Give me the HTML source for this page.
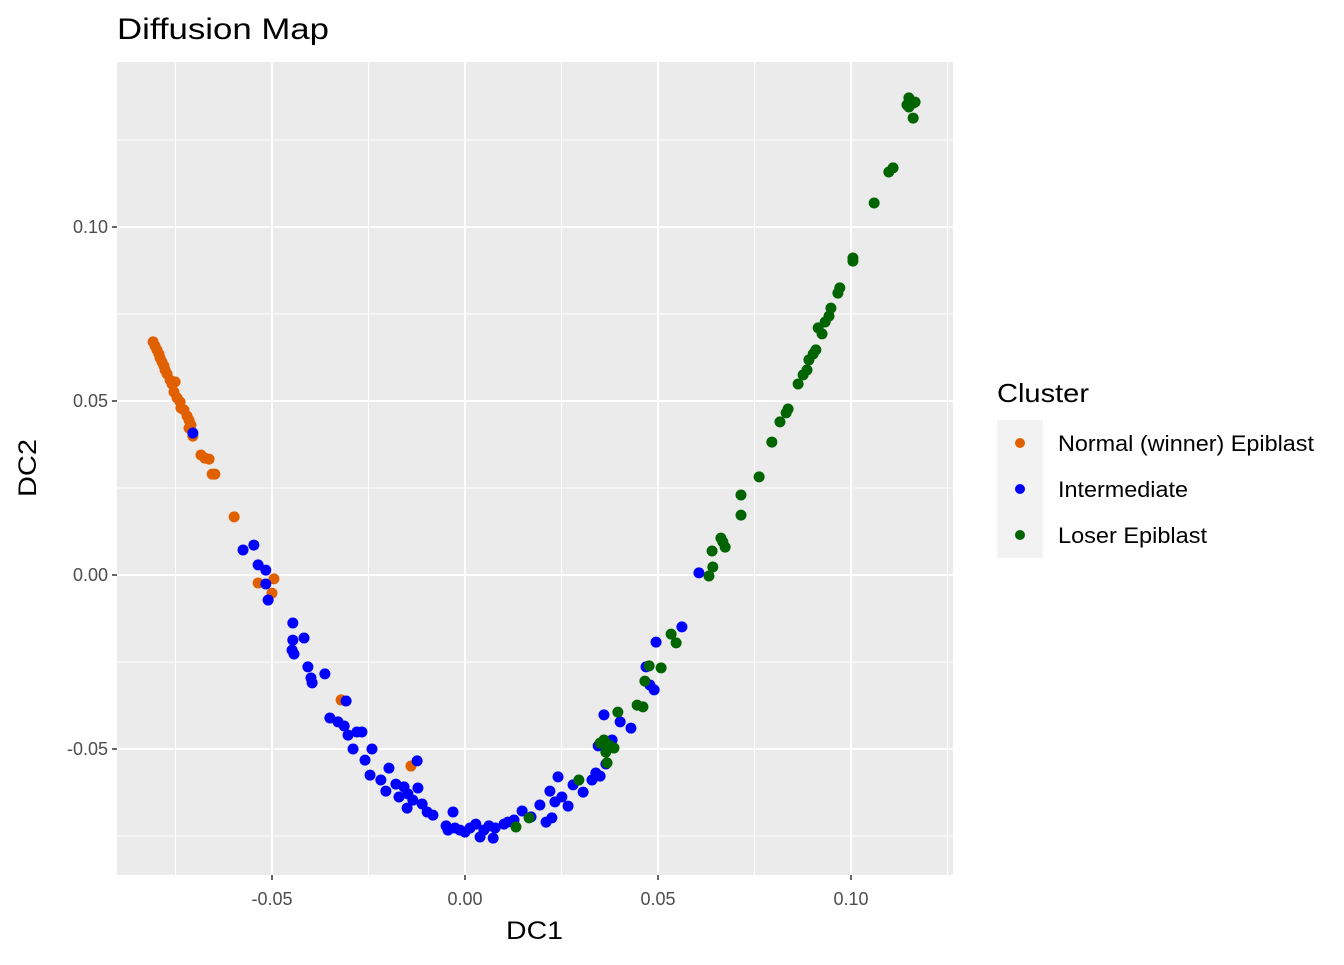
<!DOCTYPE html>
<html><head><meta charset="utf-8">
<style>
body{margin:0;background:#fff;font-family:"Liberation Sans",Arial,sans-serif;}
svg text{font-family:"Liberation Sans",Arial,sans-serif;}
</style></head>
<body>
<svg id="chart" width="1344" height="960" xmlns="http://www.w3.org/2000/svg">
<rect width="1344" height="960" fill="#fff"/>
<text x="117" y="39" font-size="30" textLength="212" lengthAdjust="spacingAndGlyphs" fill="#000">Diffusion Map</text>
<rect x="117" y="62" width="836" height="813" fill="#ebebeb"/>
<g id="grid"></g>
<g id="axes"></g>
<g id="points"></g>
<text x="506" y="939" font-size="25" textLength="57" lengthAdjust="spacingAndGlyphs">DC1</text>
<text transform="translate(36,497) rotate(-90)" font-size="25" textLength="58" lengthAdjust="spacingAndGlyphs">DC2</text>
<g>
<text x="997" y="402" font-size="26" textLength="92" lengthAdjust="spacingAndGlyphs">Cluster</text>
<rect x="997" y="420" width="46" height="138" fill="#f2f2f2"/>
<g><circle cx="1020" cy="443" r="5" fill="#e06000"/><text x="1058" y="451" font-size="22" textLength="256" lengthAdjust="spacingAndGlyphs">Normal (winner) Epiblast</text></g>
<g><circle cx="1020" cy="489" r="5" fill="#0000ff"/><text x="1058" y="497" font-size="22" textLength="130" lengthAdjust="spacingAndGlyphs">Intermediate</text></g>
<g><circle cx="1020" cy="535" r="5" fill="#006400"/><text x="1058" y="543" font-size="22" textLength="149" lengthAdjust="spacingAndGlyphs">Loser Epiblast</text></g>
</g>
</svg>
<script>
const xTicks=[-0.05,0,0.05,0.10];
const xTickLabels=["-0.05","0.00","0.05","0.10"];
const yTicks=[-0.05,0,0.05,0.10];
const yTickLabels=["-0.05","0.00","0.05","0.10"];
const normalX=[-0.0808,-0.0803,-0.0798,-0.0793,-0.0790,-0.0785,-0.0780,-0.0777,-0.0772,-0.0764,-0.0759,-0.0751,-0.0754,-0.0746,-0.0738,-0.0736,-0.0728,-0.0720,-0.0715,-0.0710,-0.0715,-0.0705,-0.0684,-0.0674,-0.0663,-0.0655,-0.0648,-0.0598,-0.0536,-0.0495,-0.0500,-0.0321,-0.0140];
const normalY=[0.0670,0.0658,0.0647,0.0635,0.0624,0.0612,0.0601,0.0589,0.0578,0.0560,0.0549,0.0555,0.0526,0.0509,0.0497,0.0480,0.0474,0.0457,0.0445,0.0431,0.0422,0.0399,0.0345,0.0336,0.0333,0.0290,0.0290,0.0167,-0.0023,-0.0011,-0.0052,-0.0359,-0.0549];
const interX=[-0.0705,-0.0575,-0.0547,-0.0536,-0.0516,-0.0516,-0.0510,-0.0446,-0.0446,-0.0417,-0.0448,-0.0443,-0.0407,-0.0399,-0.0396,-0.0363,-0.0308,-0.0350,-0.0329,-0.0313,-0.0303,-0.0280,-0.0267,-0.0290,-0.0241,-0.0259,-0.0246,-0.0218,-0.0205,-0.0197,-0.0179,-0.0171,-0.0158,-0.0148,-0.0150,-0.0135,-0.0124,-0.0122,-0.0111,-0.0098,-0.0083,-0.0049,-0.0044,-0.0031,-0.0026,-0.0013,0.0000,0.0013,0.0028,0.0039,0.0049,0.0062,0.0073,0.0078,0.0101,0.0111,0.0127,0.0148,0.0171,0.0194,0.0210,0.0220,0.0225,0.0233,0.0241,0.0251,0.0267,0.0280,0.0306,0.0329,0.0339,0.0350,0.0360,0.0381,0.0402,0.0430,0.0469,0.0479,0.0490,0.0495,0.0562,0.0606,0.0365,0.0345];
const interY=[0.0408,0.0072,0.0086,0.0029,0.0014,-0.0026,-0.0072,-0.0138,-0.0187,-0.0181,-0.0216,-0.0227,-0.0264,-0.0296,-0.0310,-0.0284,-0.0362,-0.0411,-0.0422,-0.0434,-0.0460,-0.0451,-0.0451,-0.0500,-0.0500,-0.0532,-0.0575,-0.0589,-0.0621,-0.0555,-0.0601,-0.0638,-0.0609,-0.0629,-0.0670,-0.0647,-0.0534,-0.0612,-0.0658,-0.0681,-0.0690,-0.0721,-0.0733,-0.0681,-0.0727,-0.0733,-0.0739,-0.0727,-0.0716,-0.0753,-0.0733,-0.0721,-0.0756,-0.0727,-0.0716,-0.0710,-0.0704,-0.0678,-0.0695,-0.0661,-0.0710,-0.0621,-0.0698,-0.0652,-0.0580,-0.0638,-0.0664,-0.0603,-0.0624,-0.0589,-0.0569,-0.0578,-0.0402,-0.0474,-0.0422,-0.0440,-0.0264,-0.0316,-0.0330,-0.0193,-0.0149,0.0006,-0.0543,-0.0491];
const loserX=[0.0132,0.0166,0.0295,0.0350,0.0360,0.0365,0.0368,0.0373,0.0386,0.0396,0.0446,0.0461,0.0466,0.0477,0.0508,0.0534,0.0547,0.0632,0.0642,0.0640,0.0663,0.0668,0.0674,0.0715,0.0715,0.0762,0.0795,0.0816,0.0832,0.0837,0.0863,0.0876,0.0886,0.0891,0.0902,0.0909,0.0915,0.0925,0.0933,0.0943,0.0948,0.0966,0.0971,0.1005,0.1005,0.1060,0.1098,0.1109,0.1150,0.1161,0.1166,0.1150,0.1161,0.1145];
const loserY=[-0.0724,-0.0698,-0.0589,-0.0483,-0.0474,-0.0509,-0.0540,-0.0489,-0.0497,-0.0394,-0.0374,-0.0379,-0.0305,-0.0261,-0.0267,-0.0170,-0.0195,-0.0003,0.0023,0.0069,0.0106,0.0095,0.0080,0.0172,0.0230,0.0282,0.0382,0.0440,0.0466,0.0477,0.0549,0.0575,0.0589,0.0618,0.0635,0.0647,0.0710,0.0693,0.0727,0.0744,0.0767,0.0810,0.0825,0.0911,0.0902,0.1069,0.1158,0.1170,0.1371,0.1356,0.1359,0.1345,0.1313,0.1351];

const NS="http://www.w3.org/2000/svg";
const PL=117,PR=953,PT=62,PB=875;
function sx(v){return 465+v*3860;}
function sy(v){return 575-v*3480;}
function mk(tag,attrs,parent){const e=document.createElementNS(NS,tag);for(const k in attrs)e.setAttribute(k,attrs[k]);parent.appendChild(e);return e;}
const grid=document.getElementById('grid'),axes=document.getElementById('axes'),pts=document.getElementById('points');
for(let i=0;i<xTicks.length+1;i++){
  const v=(i===0?xTicks[0]-0.025:xTicks[i-1]+0.025);
  const l=mk('line',{x1:sx(v),x2:sx(v),y1:PT,y2:PB,stroke:'#fff','stroke-width':1},grid);
  
  
}
for(let i=0;i<yTicks.length+1;i++){
  const v=(i===0?yTicks[0]-0.025:yTicks[i-1]+0.025);
  const l=mk('line',{x1:PL,x2:PR,y1:sy(v),y2:sy(v),stroke:'#fff','stroke-width':1},grid);
  
  
}
xTicks.forEach((v,i)=>{
  const l=mk('line',{x1:sx(v),x2:sx(v),y1:PT,y2:PB,stroke:'#fff','stroke-width':2},grid);
  
  
  const t=mk('line',{x1:sx(v),x2:sx(v),y1:PB,y2:PB+5,stroke:'#333','stroke-width':1.5},axes);
  
  
  const tx=mk('text',{x:sx(v),y:905,'font-size':18,'text-anchor':'middle',fill:'#4d4d4d'},axes);
  tx.textContent=xTickLabels[i];
  
  
});
yTicks.forEach((v,i)=>{
  const l=mk('line',{x1:PL,x2:PR,y1:sy(v),y2:sy(v),stroke:'#fff','stroke-width':2},grid);
  
  
  const t=mk('line',{x1:PL-5,x2:PL,y1:sy(v),y2:sy(v),stroke:'#333','stroke-width':1.5},axes);
  
  
  const tx=mk('text',{x:PL-9,y:sy(v)+6,'font-size':18,'text-anchor':'end',fill:'#4d4d4d'},axes);
  tx.textContent=yTickLabels[i];
  
  
});
function series(X,Y,col,name){
  X.forEach((x,i)=>{
    const c=mk('circle',{cx:sx(x),cy:sy(Y[i]),r:5.5,fill:col},pts);
    
    
  });
}
series(normalX,normalY,'#e06000','point-normal');
series(interX,interY,'#0000ff','point-intermediate');
series(loserX,loserY,'#006400','point-loser');
</script>
</body></html>
